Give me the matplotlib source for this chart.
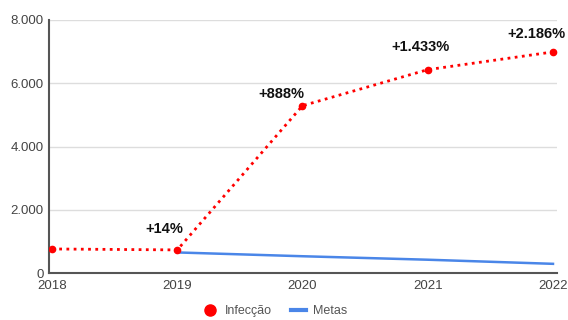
import numpy as np
import matplotlib.pyplot as plt
from matplotlib.ticker import FuncFormatter

plt.rcParams['font.family'] = ['Liberation Sans', 'DejaVu Sans']

anos = [2018, 2019, 2020, 2021, 2022]
infeccao = [760, 730, 5290, 6430, 6990]
metas_anos = [2019, 2020, 2021, 2022]
metas = [650, 530, 420, 290]
rotulos = ['+14%', '+888%', '+1.433%', '+2.186%']
rotulos_pos = [(2018.9, 1380), (2019.83, 5650), (2020.94, 7150), (2021.87, 7560)]

fig = plt.figure(figsize=(5.68, 3.2), dpi=100)
ax = fig.add_axes([49/568, 1-273/320, 508/568, 253/320])

ax.plot(anos, infeccao, color='#ff0000', linestyle=(0, (1, 1.6)), linewidth=2,
        marker='o', markersize=4.5, label='Infecção', zorder=3)
ax.plot(metas_anos, metas, color='#4a86e8', linewidth=1.8, label='Metas', zorder=2)

for txt, (x, y) in zip(rotulos, rotulos_pos):
    ax.text(x, y, txt, ha='center', va='center', fontsize=10.5, fontweight='bold', color='#111111')

ax.set_xlim(2018 - 0.024, 2022 + 0.032)
ax.set_ylim(0, 8000)
ax.set_xticks(anos)
ax.set_yticks([0, 2000, 4000, 6000, 8000])
ax.yaxis.set_major_formatter(FuncFormatter(lambda v, p: f'{int(v):,}'.replace(',', '.')))
ax.tick_params(length=0, labelsize=9.5, colors='#444444')
ax.tick_params(axis='x', pad=5)
ax.tick_params(axis='y', pad=4)
ax.grid(axis='y', color='#dddddd', linewidth=1)
ax.set_axisbelow(True)
for s in ['top', 'right']:
    ax.spines[s].set_visible(False)
ax.spines['left'].set_color('#555555')
ax.spines['left'].set_linewidth(1.5)
ax.spines['bottom'].set_color('#555555')
ax.spines['bottom'].set_linewidth(1.5)

h1 = plt.Line2D([], [], color='#ff0000', marker='o', linestyle='none', markersize=8)
h2 = plt.Line2D([], [], color='#4a86e8', linewidth=3)
fig.legend([h1, h2], ['Infecção', 'Metas'], loc='center', bbox_to_anchor=(275/568, 1-311/320),
           ncol=2, frameon=False, fontsize=9, handlelength=1.2, columnspacing=1.5,
           handletextpad=0.6, labelcolor='#555555')

fig.savefig('out.png', dpi=100)
